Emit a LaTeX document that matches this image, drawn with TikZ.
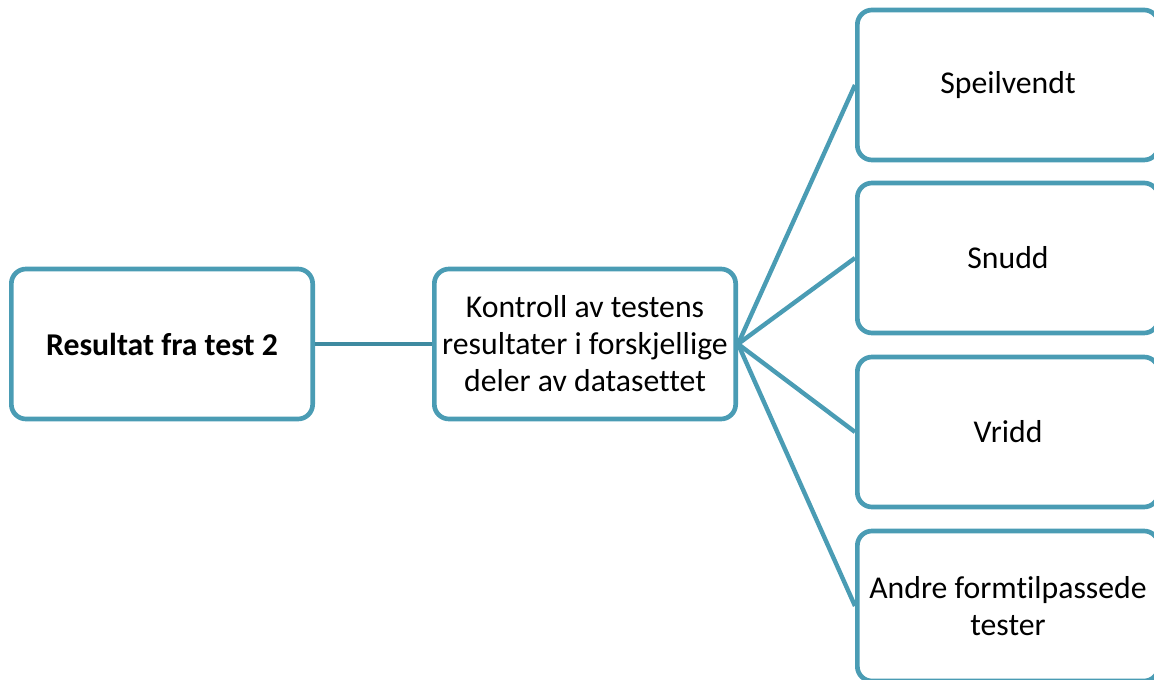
\documentclass[tikz,border=0pt]{standalone}
\usepackage{fontspec}
\setmainfont{Carlito}[Ligatures=NoCommon]
\definecolor{boxblue}{RGB}{74,156,180}
\definecolor{linkblue}{RGB}{62,138,160}
\begin{document}
\begin{tikzpicture}[x=0.75pt,y=-0.75pt,
  box/.style={draw=boxblue,line width=3.5pt,rounded corners=11pt,fill=white,
    minimum width=226pt,minimum height=112.5pt,align=center,inner sep=2pt,
    font=\fontsize{23.8}{27.75}\selectfont},
  link/.style={draw=boxblue,line width=3.3pt}]
\useasboundingbox (0,0) rectangle (1154,680);
\clip (0,0) rectangle (1154,680);
\node[box] (res) at (162,344) {\textbf{Resultat fra test 2}};
\node[box] (ktr) at (585,344) {Kontroll av testens\\resultater i forskjellige\\deler av datasettet};
\node[box] (s1) at (1008,85) {Speilvendt};
\node[box] (s2) at (1008,258) {Snudd};
\node[box] (s3) at (1008,432) {Vridd};
\node[box] (s4) at (1008,606) {Andre formtilpassede\\tester};
\draw[link,draw=linkblue] (res.east) -- (ktr.west);
\foreach \n in {s1,s2,s3,s4} \draw[link] (ktr.east) -- (\n.west);
\end{tikzpicture}
\end{document}
